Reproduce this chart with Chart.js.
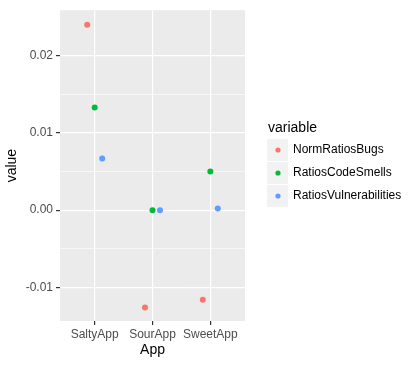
<!DOCTYPE html>
<html>
<head>
<meta charset="utf-8">
<script src="https://cdn.jsdelivr.net/npm/chart.js@4/dist/chart.umd.min.js"></script>
<style>
  html, body { margin: 0; padding: 0; background: #fff; }
  #wrap { width: 420px; height: 366px; }
</style>
</head>
<body>
<div id="wrap"><canvas id="chart"></canvas></div>
<script>
// data
const apps = ['SaltyApp', 'SourApp', 'SweetApp'];
const normRatiosBugs = [0.0240, -0.0126, -0.0116];
const ratiosCodeSmells = [0.0133, 0.0000, 0.0050];
const ratiosVulnerabilities = [0.0067, 0.0000, 0.0002];
const yTicks = [-0.01, 0, 0.01, 0.02];
const yMinor = [-0.005, 0.005, 0.015];

const seriesNames = ['NormRatiosBugs', 'RatiosCodeSmells', 'RatiosVulnerabilities'];
const seriesValues = [normRatiosBugs, ratiosCodeSmells, ratiosVulnerabilities];
const colors = ['#F8766D', '#00BA38', '#619CFF'];
const dodge = [-0.13, 0, 0.13];

const datasets = seriesNames.map((name, s) => ({
  label: name,
  data: seriesValues[s].map((v, i) => ({ x: i + 1 + dodge[s], y: v })),
  backgroundColor: colors[s],
  borderWidth: 0,
  pointRadius: 3,
  pointHoverRadius: 3
}));

// grey panel behind the points
const panelBg = {
  id: 'panelBg',
  beforeDraw(chart) {
    const { ctx, chartArea: a } = chart;
    ctx.save();
    ctx.fillStyle = '#EBEBEB';
    ctx.fillRect(a.left, a.top, a.right - a.left, a.bottom - a.top);
    ctx.restore();
  }
};

// ggplot-like legend on the right
const sideLegend = {
  id: 'sideLegend',
  afterDraw(chart) {
    const ctx = chart.ctx;
    ctx.save();
    ctx.fillStyle = '#000';
    ctx.font = '14px "Liberation Sans", Arial, sans-serif';
    ctx.textBaseline = 'middle';
    ctx.fillText('variable', 268, 128);
    chart.data.datasets.forEach((ds, i) => {
      const y = 150 + i * 23;
      ctx.fillStyle = '#F2F2F2';
      ctx.fillRect(267, y - 11, 21, 22);
      ctx.fillStyle = ds.backgroundColor;
      ctx.beginPath();
      ctx.arc(278, y, 2.6, 0, Math.PI * 2);
      ctx.fill();
      ctx.fillStyle = '#000';
      ctx.font = '12px "Liberation Sans", Arial, sans-serif';
      ctx.fillText(ds.label, 293, y);
    });
    ctx.restore();
  }
};

const tickFont = { family: '"Liberation Sans", Arial, sans-serif', size: 12 };
const titleFont = { family: '"Liberation Sans", Arial, sans-serif', size: 14 };

new Chart(document.getElementById('chart'), {
  type: 'scatter',
  data: { datasets },
  options: {
    responsive: true,
    maintainAspectRatio: false,
    animation: false,
    layout: { padding: { top: 7, right: 175, bottom: 0, left: 0 } },
    plugins: {
      legend: { display: false },
      tooltip: { enabled: false }
    },
    scales: {
      x: {
        type: 'linear',
        min: 0.4,
        max: 3.6,
        afterBuildTicks: scale => { scale.ticks = apps.map((a, i) => ({ value: i + 1 })); },
        afterFit: scale => { scale.height = 45; },
        border: { display: false },
        grid: { color: '#fff', lineWidth: 1.2, tickColor: '#333', tickLength: 4 },
        ticks: {
          color: '#4D4D4D',
          font: tickFont,
          padding: 2,
          maxRotation: 0,
          callback: v => apps[Math.round(v) - 1]
        },
        title: { display: true, text: 'App', color: '#000', font: titleFont, padding: { top: 0, bottom: 7 } }
      },
      y: {
        min: -0.01436,
        max: 0.0259,
        afterBuildTicks: scale => {
          scale.ticks = yTicks.concat(yMinor).sort((a, b) => a - b).map(v => ({ value: v }));
        },
        afterFit: scale => { scale.width = 60; },
        border: { display: false },
        grid: {
          color: '#fff',
          lineWidth: c => yMinor.some(m => Math.abs(m - c.tick.value) < 1e-9) ? 0.6 : 1.2,
          tickColor: c => yMinor.some(m => Math.abs(m - c.tick.value) < 1e-9) ? 'rgba(0,0,0,0)' : '#333',
          tickLength: 4
        },
        ticks: {
          color: '#4D4D4D',
          font: tickFont,
          padding: 3,
          callback: v => yTicks.some(t => Math.abs(t - v) < 1e-9) ? v.toFixed(2) : ''
        },
        title: { display: true, text: 'value', color: '#000', font: titleFont, padding: { top: 4, bottom: 0 } }
      }
    }
  },
  plugins: [panelBg, sideLegend]
});
</script>
</body>
</html>
